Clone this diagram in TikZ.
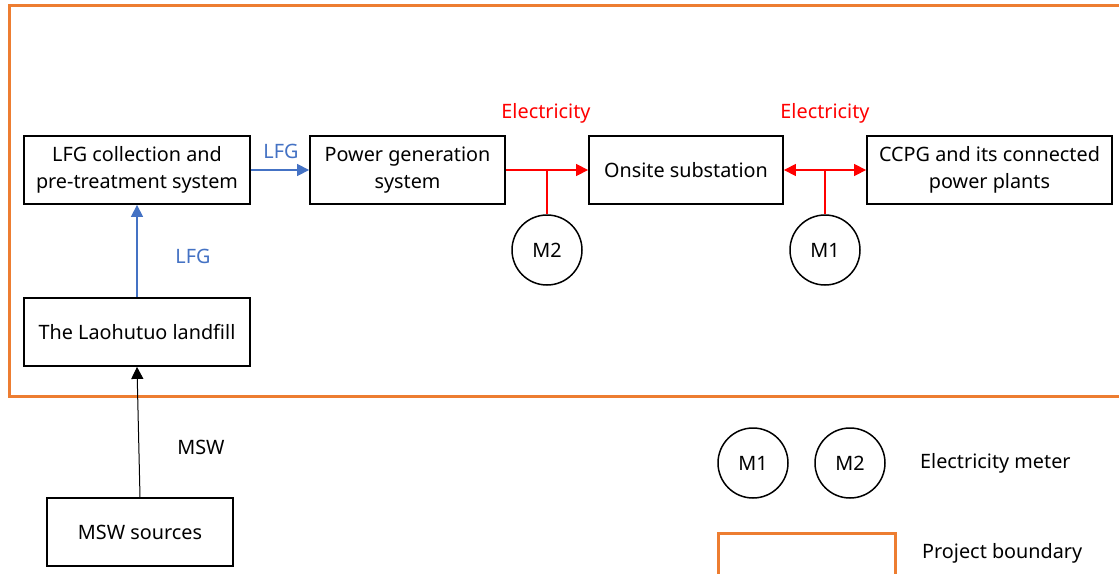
\documentclass[tikz,border=0pt]{standalone}
\usepackage{fontspec}
\setmainfont{Noto Sans}
\usetikzlibrary{arrows.meta}
\definecolor{borange}{RGB}{237,125,49}
\definecolor{lblue}{RGB}{68,114,196}
\definecolor{ered}{RGB}{255,0,0}
\tikzset{
  procbox/.style={draw=black, line width=1.8pt, minimum height=68pt, align=center, font=\fontsize{19.8pt}{26.5pt}\selectfont, inner sep=0pt},
  meter/.style={draw=black, line width=1.5pt, circle, minimum size=70pt, inner sep=0pt, font=\fontsize{19.8pt}{22pt}\selectfont},
  lbl/.style={font=\fontsize{19.8pt}{22pt}\selectfont, inner sep=0pt},
  tipT/.style={-{Triangle[length=12pt,width=12pt]}},
  blueline/.style={draw=lblue, line width=1.3pt},
  redline/.style={draw=ered, line width=1.3pt},
}
\begin{document}
\begin{tikzpicture}[x=1pt,y=-1pt]
\useasboundingbox (0,0) rectangle (1119,573);
\clip (0,0) rectangle (1119,573);
\fill[white] (0,0) rectangle (1119,573);
% project boundary
\draw[borange, line width=3pt] (9,5) rectangle (1130,396);
% boxes
\node[procbox, minimum width=226pt] (lfg) at (137,170) {LFG collection and\\pre-treatment system};
\node[procbox, minimum width=195pt] (pg) at (407.5,170) {Power generation\\system};
\node[procbox, minimum width=194pt] (sub) at (686,170) {Onsite substation};
\node[procbox, minimum width=245pt] (ccpg) at (989.5,170) {CCPG and its connected\\power plants};
\node[procbox, minimum width=226pt] (land) at (137,332) {The Laohutuo landfill};
\node[procbox, minimum width=186pt] (msw) at (140,532) {MSW sources};
% meters
\node[meter] (m2) at (547,250) {M2};
\node[meter] (m1) at (825,250) {M1};
\node[meter] (lm1) at (753,463) {M1};
\node[meter] (lm2) at (850,463) {M2};
% connectors
\draw[blueline, tipT] (land.north) -- (lfg.south);
\draw[blueline, tipT] (lfg.east) -- (pg.west);
\draw[redline, tipT] (pg.east) -- (sub.west);
\draw[redline, {Triangle[length=12pt,width=12pt]}-{Triangle[length=12pt,width=12pt]}] (sub.east) -- (ccpg.west);
\coordinate (t2) at (547,170);
\coordinate (t1) at (825,170);
\draw[redline] (t2) -- (m2.north);
\draw[redline] (t1) -- (m1.north);
\draw[black, line width=1pt, tipT] (msw.north) -- (land.south);
% labels
\node[lbl, text=lblue] (lfglab1) at (281,151) {LFG};
\node[lbl, text=lblue] (lfglab2) at (193,256) {LFG};
\node[lbl, text=ered] (el1) at (546,113) {Electricity};
\node[lbl, text=ered] (el2) at (825,113) {Electricity};
\node[lbl] (mswlab) at (201,447) {MSW};
% legend
\node[lbl, anchor=west] (legm) at (920,463) {Electricity meter};
\draw[borange, line width=3pt] (718,533) rectangle (895,580);
\node[lbl, anchor=west] (legb) at (922,553) {Project boundary};
\end{tikzpicture}
\end{document}
